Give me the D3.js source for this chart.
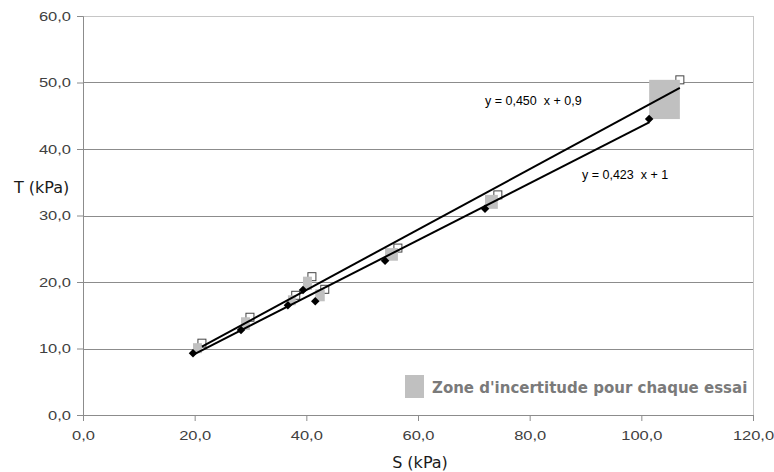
<!DOCTYPE html>
<html>
<head>
<meta charset="utf-8">
<script src="https://cdn.jsdelivr.net/npm/d3@7"></script>
<style>
  html, body { margin: 0; padding: 0; background: #fff; }
  svg { display: block; }
</style>
</head>
<body>
<svg id="chart" width="774" height="472"></svg>
<script>
// ---- data ----
const xTicks = [0, 20, 40, 60, 80, 100, 120];
const yTicks = [0, 10, 20, 30, 40, 50, 60];
// measured points (black diamonds)
const sMesure = [19.7, 28.3, 36.7, 39.4, 41.6, 54.1, 72.0, 101.4];
const tMesure = [9.3, 12.8, 16.5, 18.8, 17.1, 23.2, 31.0, 44.5];
// second set (open squares)
const sCorrige = [21.3, 29.9, 38.1, 41.0, 43.3, 56.4, 74.3, 106.9];
const tCorrige = [10.8, 14.7, 18.0, 20.8, 18.9, 25.1, 33.1, 50.4];
const eqLabels = ["y = 0,450  x + 0,9", "y = 0,423  x + 1"];
const xTitle = "S (kPa)";
const yTitle = "T (kPa)";
const legendText = "Zone d'incertitude pour chaque essai";

// ---- layout ----
const svg = d3.select("#chart");
const x = d3.scaleLinear().domain([0, 120]).range([83, 753]);
const y = d3.scaleLinear().domain([0, 60]).range([415, 16]);
const fmt = v => v.toFixed(1).replace(".", ",");

// plot border (light)
svg.append("rect")
  .attr("x", x(0)).attr("y", y(60))
  .attr("width", x(120) - x(0)).attr("height", y(0) - y(60))
  .attr("fill", "none").attr("stroke", "#c6c6c6").attr("stroke-width", 1)
  .attr("shape-rendering", "crispEdges");

// gridlines
svg.append("g").selectAll("line")
  .data(yTicks.filter(v => v > 0 && v < 60))
  .join("line")
  .attr("x1", x(0)).attr("x2", x(120))
  .attr("y1", d => Math.round(y(d)) + 0.5).attr("y2", d => Math.round(y(d)) + 0.5)
  .attr("stroke", "#8c8c8c").attr("stroke-width", 1);

// axes
const yAxis = svg.append("g")
  .attr("transform", `translate(${x(0)},0)`)
  .call(d3.axisLeft(y).tickValues(yTicks).tickFormat(fmt).tickSize(6).tickPadding(6));
const xAxis = svg.append("g")
  .attr("transform", `translate(0,${y(0)})`)
  .call(d3.axisBottom(x).tickValues(xTicks).tickFormat(fmt).tickSize(6).tickPadding(9));
[yAxis, xAxis].forEach(g => {
  g.select(".domain").attr("stroke", "#8c8c8c");
  g.selectAll(".tick line").attr("stroke", "#8c8c8c");
  g.selectAll("text")
    .attr("font-family", "'Liberation Sans', Arial, sans-serif")
    .attr("font-size", 13.5)
    .attr("fill", "#404040")
    .each(function () {
      const w = this.getComputedTextLength();
      d3.select(this).attr("textLength", w * 1.22).attr("lengthAdjust", "spacingAndGlyphs");
    });
});

// open squares (drawn beneath the uncertainty zones)
svg.append("g").selectAll("rect")
  .data(d3.range(sCorrige.length))
  .join("rect")
  .attr("x", i => x(sCorrige[i]) - 4)
  .attr("y", i => y(tCorrige[i]) - 4)
  .attr("width", 8).attr("height", 8)
  .attr("fill", "#fff")
  .attr("stroke", "#444").attr("stroke-width", 1);

// uncertainty zones
svg.append("g").selectAll("rect")
  .data(d3.range(sMesure.length))
  .join("rect")
  .attr("x", i => Math.min(x(sMesure[i]), x(sCorrige[i])))
  .attr("y", i => Math.min(y(tMesure[i]), y(tCorrige[i])))
  .attr("width", i => Math.abs(x(sCorrige[i]) - x(sMesure[i])))
  .attr("height", i => Math.abs(y(tCorrige[i]) - y(tMesure[i])))
  .attr("fill", "#c0c0c0");

// regression
function fit(xs, ys) {
  const mx = d3.mean(xs), my = d3.mean(ys);
  let sxy = 0, sxx = 0;
  xs.forEach((v, i) => { sxy += (v - mx) * (ys[i] - my); sxx += (v - mx) * (v - mx); });
  const a = sxy / sxx, b = my - a * mx;
  const [x0, x1] = d3.extent(xs);
  return [[x0, a * x0 + b], [x1, a * x1 + b]];
}
const line = d3.line().x(d => x(d[0])).y(d => y(d[1]));
[fit(sCorrige, tCorrige), fit(sMesure, tMesure)].forEach(seg => {
  svg.append("path").attr("d", line(seg))
    .attr("fill", "none").attr("stroke", "#000").attr("stroke-width", 2);
});

// diamonds
svg.append("g").selectAll("path")
  .data(d3.range(sMesure.length))
  .join("path")
  .attr("d", d3.symbol().type(d3.symbolDiamond2).size(46))
  .attr("transform", i => `translate(${x(sMesure[i])},${y(tMesure[i])})`)
  .attr("fill", "#000");

// equation labels
const eqFont = "'Liberation Sans', Arial, sans-serif";
svg.append("text").attr("x", 485).attr("y", 105)
  .attr("font-family", eqFont).attr("font-size", 12.5).attr("fill", "#000")
  .style("white-space", "pre").text(eqLabels[0]);
svg.append("text").attr("x", 582).attr("y", 179)
  .attr("font-family", eqFont).attr("font-size", 12.5).attr("fill", "#000")
  .style("white-space", "pre").text(eqLabels[1]);

// axis titles
svg.append("text").attr("x", 14).attr("y", 193)
  .attr("font-family", "'DejaVu Sans', Verdana, sans-serif").attr("font-size", 16)
  .attr("fill", "#1a1a1a").text(yTitle);
svg.append("text").attr("x", 420).attr("y", 468).attr("text-anchor", "middle")
  .attr("font-family", "'DejaVu Sans', Verdana, sans-serif").attr("font-size", 16)
  .attr("fill", "#1a1a1a").text(xTitle);

// legend
svg.append("rect").attr("x", 405).attr("y", 375).attr("width", 19).attr("height", 23)
  .attr("fill", "#c0c0c0");
svg.append("text").attr("x", 432).attr("y", 393)
  .attr("font-family", "'DejaVu Sans', Verdana, sans-serif").attr("font-weight", "bold")
  .attr("font-size", 15).attr("fill", "#7a7a7a").text(legendText);
</script>
</body>
</html>
